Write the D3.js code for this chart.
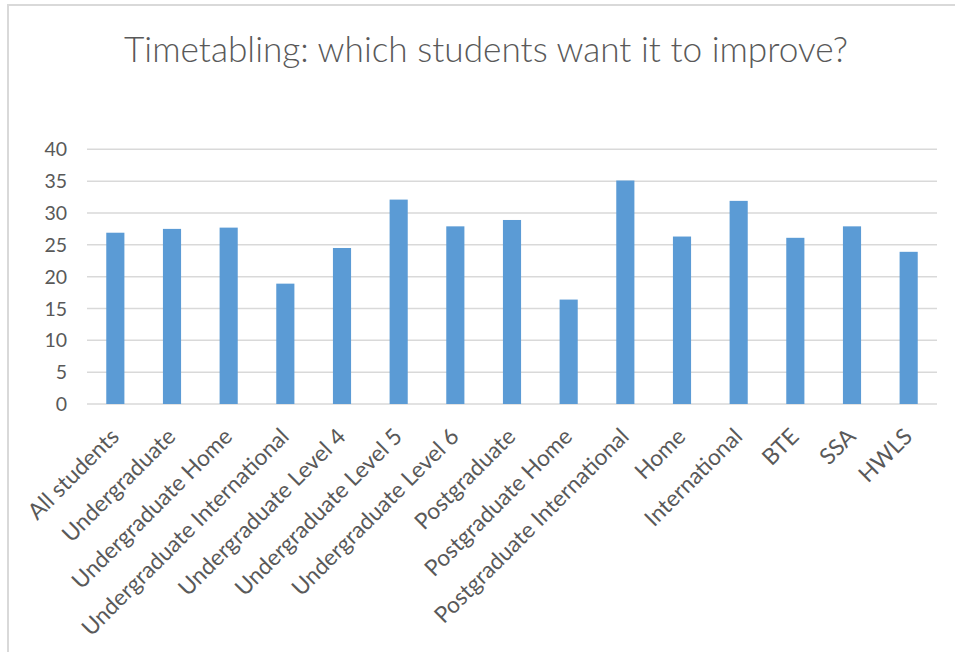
<!DOCTYPE html>
<html>
<head>
<meta charset="utf-8">
<script src="https://cdn.jsdelivr.net/npm/d3@7"></script>
<style>
  html, body { margin: 0; padding: 0; background: #fff; }
  svg { display: block; }
  text { font-family: Lato, "Open Sans", sans-serif; fill: #595959; }
</style>
</head>
<body>
<svg id="chart" width="955" height="652"></svg>
<script>
const categories = ["All students", "Undergraduate", "Undergraduate Home", "Undergraduate International",
  "Undergraduate Level 4", "Undergraduate Level 5", "Undergraduate Level 6", "Postgraduate",
  "Postgraduate Home", "Postgraduate International", "Home", "International", "BTE", "SSA", "HWLS"];
const values = [26.9, 27.5, 27.7, 18.9, 24.5, 32.1, 27.9, 28.9, 16.4, 35.1, 26.3, 31.9, 26.1, 27.9, 23.9];
const yTicks = [0, 5, 10, 15, 20, 25, 30, 35, 40];
const title = "Timetabling: which students want it to improve?";

const svg = d3.select("#chart");
const W = 955, H = 652;
const plot = { left: 87, right: 937, top: 149.3, bottom: 404 };

// outer chart border
svg.append("rect")
  .attr("x", 8).attr("y", 5).attr("width", W + 20).attr("height", H + 20)
  .attr("fill", "none").attr("stroke", "#d9d9d9").attr("stroke-width", 2);

const x = d3.scaleBand().domain(categories).range([plot.left, plot.right]).paddingInner(0.68).paddingOuter(0.34);
const y = d3.scaleLinear().domain([0, 40]).range([plot.bottom, plot.top]);

// gridlines
svg.append("g").selectAll("line").data(yTicks).join("line")
  .attr("x1", plot.left).attr("x2", plot.right)
  .attr("y1", d => y(d)).attr("y2", d => y(d))
  .attr("stroke", "#d9d9d9").attr("stroke-width", 1.5);

// y labels
svg.append("g").selectAll("text").data(yTicks).join("text")
  .attr("x", 67).attr("y", d => y(d)).attr("dy", "0.36em")
  .attr("text-anchor", "end").attr("font-size", 19.5).text(d => d);

// bars
svg.append("g").selectAll("rect").data(values).join("rect")
  .attr("x", (d, i) => x(categories[i]))
  .attr("width", x.bandwidth())
  .attr("y", d => y(d))
  .attr("height", d => y(0) - y(d))
  .attr("fill", "#5b9bd5");

// category labels
const lab = svg.append("g").selectAll("text").data(categories).join("text")
  .attr("text-anchor", "end")
  .attr("font-size", 18)
  .attr("transform", d => `translate(${x(d) + x.bandwidth() / 2 + 5},${438}) rotate(-45)`)
  .text(d => d);
const longest = lab.filter(d => d === "Undergraduate International").node();
const lfs = 18 * 282 / longest.getComputedTextLength();
lab.attr("font-size", lfs);

// title
const t = svg.append("text").attr("x", 486).attr("y", 62).attr("text-anchor", "middle")
  .attr("font-size", 30).attr("font-weight", 300).text(title);
const tfs = 30 * 724 / t.node().getComputedTextLength();
t.attr("font-size", tfs);
</script>
</body>
</html>
